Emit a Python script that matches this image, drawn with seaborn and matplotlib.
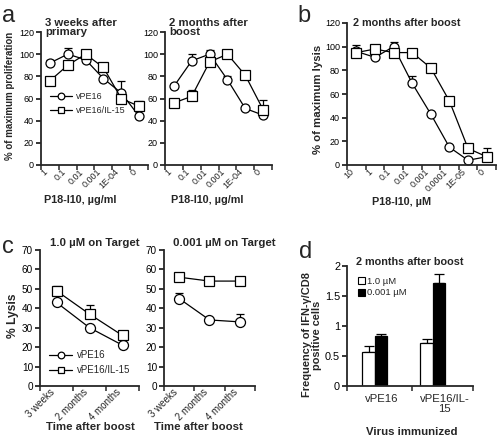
import matplotlib
matplotlib.use("Agg")
import matplotlib.pyplot as plt
import matplotlib.transforms as mtransforms
import seaborn as sns
import pandas as pd
import numpy as np
from matplotlib.lines import Line2D
from matplotlib.patches import Patch

# ---------------- data ----------------
a_conc = ['1', '0.1', '0.01', '0.001', '1E-04', '0']
a1_vpe16 = [92, 100, 95, 78, 65, 44]
a1_vpe16_err = [3, 6, 0, 0, 11, 0]
a1_il15 = [76, 90, 100, 88, 60, 53]
a1_il15_err = [0, 0, 0, 0, 0, 5]
a2_vpe16 = [71, 94, 100, 77, 51, 45]
a2_vpe16_err = [2, 6, 4, 3, 0, 0]
a2_il15 = [56, 62, 93, 100, 81, 50]
a2_il15_err = [0, 6, 0, 0, 0, 9]

b_conc = ['10', '1', '0.1', '0.01', '0.001', '0.0001', '1E-05', '0']
b_vpe16 = [96, 91, 100, 69, 43, 15, 4, 7]
b_vpe16_err = [0, 0, 4, 6, 0, 0, 0, 0]
b_il15 = [95, 98, 95, 95, 82, 54, 14, 7]
b_il15_err = [6, 0, 0, 2, 0, 0, 0, 7]

c_time = ['3 weeks', '2 months', '4 months']
c1_vpe16 = [43, 30, 21]
c1_vpe16_err = [0, 0, 0]
c1_il15 = [49, 37, 26]
c1_il15_err = [2.5, 4.5, 0]
c2_vpe16 = [45, 34, 33]
c2_vpe16_err = [3, 0, 4]
c2_il15 = [56, 54, 54]
c2_il15_err = [2, 0, 0]

d_virus = ['vPE16', 'vPE16/IL-15']
d_virus_labels = ['vPE16', 'vPE16/IL-\n15']
d_conc = ['1.0 µM', '0.001 µM']
d_1uM = [0.56, 0.72]
d_1uM_err = [0.11, 0.07]
d_0001 = [0.83, 1.71]
d_0001_err = [0.03, 0.16]

series_names = ['vPE16', 'vPE16/IL-15']

# ---------------- style ----------------
sns.set_style("ticks")
plt.rcParams['font.family'] = ['Liberation Sans', 'DejaVu Sans']
plt.rcParams['axes.linewidth'] = 1.3
plt.rcParams['xtick.major.width'] = 1.1
plt.rcParams['ytick.major.width'] = 1.1
plt.rcParams['xtick.minor.width'] = 1.1

W, H = 499, 442
fig = plt.figure(figsize=(W / 100, H / 100), dpi=100)


def rect(x0, y0, x1, y1):
    return [x0 / W, 1 - y1 / H, (x1 - x0) / W, (y1 - y0) / H]


def style_axis(ax):
    sns.despine(ax=ax)
    ax.tick_params(axis='y', direction='out', length=3.5, pad=1.5, colors='black')


def line_panel(ax, cats, v1, e1, v2, e2, tick_fs=6.5, ms=6.5, pad=4):
    n = len(cats)
    pos = np.arange(n)
    df = pd.DataFrame({
        'pos': np.concatenate([pos, pos]),
        'val': v1 + v2,
        'virus': [series_names[0]] * n + [series_names[1]] * n,
    })
    for vals, err in ((v1, e1), (v2, e2)):
        ax.errorbar(pos, vals, yerr=[np.zeros(n), err], fmt='none', ecolor='black',
                    elinewidth=0.9, capsize=2.6, capthick=0.9, zorder=1.5)
    sns.lineplot(data=df, x='pos', y='val', hue='virus', style='virus',
                 markers={'vPE16': 'o', 'vPE16/IL-15': 's'}, dashes=False,
                 palette=['black', 'black'], markersize=ms, linewidth=0.9,
                 markerfacecolor='white', markeredgecolor='black', markeredgewidth=0.9,
                 legend=False, ax=ax)
    ax.set_xlim(-0.5, n - 0.5)
    ax.set_xticks(pos)
    ax.set_xticklabels(cats, rotation=45, ha='right', va='center', rotation_mode='anchor',
                       fontsize=tick_fs)
    ax.tick_params(axis='x', which='major', length=0, pad=pad)
    shift = mtransforms.ScaledTranslation(-2.5 / 72, 0, fig.dpi_scale_trans)
    for lab in ax.get_xticklabels():
        lab.set_transform(lab.get_transform() + shift)
    ax.set_xticks(np.arange(-0.5, n, 1.0), minor=True)
    ax.tick_params(axis='x', which='minor', direction='out', length=3.5)
    ax.set_xlabel('')
    ax.set_ylabel('')
    style_axis(ax)


def series_legend(ax, x, y, fs=6.5):
    h = [Line2D([], [], color='black', lw=0.9, marker='o', ms=4.8, mfc='white', mec='black', mew=0.9),
         Line2D([], [], color='black', lw=0.9, marker='s', ms=5.0, mfc='white', mec='black', mew=0.9)]
    ax.legend(h, series_names, loc='upper left', bbox_to_anchor=(x / W, 1 - y / H),
              bbox_transform=fig.transFigure, frameon=False, fontsize=fs,
              handlelength=2.4, handletextpad=0.5, labelspacing=0.55, borderpad=0,
              borderaxespad=0)


bold = dict(fontweight='bold')

# ---------------- panel a ----------------
ax_a1 = fig.add_axes(rect(41, 32, 148, 165))
line_panel(ax_a1, a_conc, a1_vpe16, a1_vpe16_err, a1_il15, a1_il15_err)
ax_a1.set_ylim(0, 120)
ax_a1.set_yticks(range(0, 121, 20))
ax_a1.tick_params(axis='y', labelsize=6.5)
series_legend(ax_a1, 50, 92)

ax_a2 = fig.add_axes(rect(165, 32, 272, 165))
line_panel(ax_a2, a_conc, a2_vpe16, a2_vpe16_err, a2_il15, a2_il15_err)
ax_a2.set_ylim(0, 120)
ax_a2.set_yticks(range(0, 121, 20))
ax_a2.tick_params(axis='y', labelsize=6.5)

fig.text(45 / W, 1 - 18 / H, '3 weeks after\nprimary', ha='left', va='top', fontsize=8.2,
         linespacing=0.85, **bold)
fig.text(169 / W, 1 - 18 / H, '2 months after\nboost', ha='left', va='top', fontsize=8.2,
         linespacing=0.85, **bold)
fig.text(80 / W, 1 - 200 / H, 'P18-I10, µg/ml', ha='center', va='center', fontsize=7.8, **bold)
fig.text(207 / W, 1 - 200 / H, 'P18-I10, µg/ml', ha='center', va='center', fontsize=7.8, **bold)
fig.text(10 / W, 1 - 96 / H, '% of maximum proliferation', ha='center', va='center',
         rotation=90, fontsize=7.0, **bold)
fig.text(2 / W, 1 - 22 / H, 'a', ha='left', va='baseline', fontsize=17)

# ---------------- panel b ----------------
ax_b = fig.add_axes(rect(347, 23, 496, 165))
line_panel(ax_b, b_conc, b_vpe16, b_vpe16_err, b_il15, b_il15_err)
ax_b.set_ylim(0, 120)
ax_b.set_yticks(range(0, 121, 20))
ax_b.tick_params(axis='y', labelsize=6.5)
fig.text(353 / W, 1 - 23 / H, '2 months after boost', ha='left', va='center', fontsize=7.8, **bold)
fig.text(402 / W, 1 - 202 / H, 'P18-I10, µM', ha='center', va='center', fontsize=7.8, **bold)
fig.text(318 / W, 1 - 99 / H, '% of maximum lysis', ha='center', va='center',
         rotation=90, fontsize=8.2, **bold)
fig.text(297 / W, 1 - 22 / H, 'b', ha='left', va='baseline', fontsize=17)

# ---------------- panel c ----------------
ax_c1 = fig.add_axes(rect(40, 250, 139, 386))
line_panel(ax_c1, c_time, c1_vpe16, c1_vpe16_err, c1_il15, c1_il15_err, tick_fs=7.0, ms=7.2, pad=3)
ax_c1.set_ylim(0, 70)
ax_c1.set_yticks(range(0, 71, 10))
ax_c1.tick_params(axis='y', labelsize=7.2)
series_legend(ax_c1, 49, 350, fs=7.0)

ax_c2 = fig.add_axes(rect(164, 250, 255, 386))
line_panel(ax_c2, c_time, c2_vpe16, c2_vpe16_err, c2_il15, c2_il15_err, tick_fs=7.0, ms=7.2, pad=3)
ax_c2.set_ylim(0, 70)
ax_c2.set_yticks(range(0, 71, 10))
ax_c2.tick_params(axis='y', labelsize=7.2)

fig.text(50 / W, 1 - 243 / H, '1.0 µM on Target', ha='left', va='center', fontsize=8.2, **bold)
fig.text(173 / W, 1 - 243 / H, '0.001 µM on Target', ha='left', va='center', fontsize=8.2, **bold)
fig.text(90 / W, 1 - 427 / H, 'Time after boost', ha='center', va='center', fontsize=8.2, **bold)
fig.text(198 / W, 1 - 427 / H, 'Time after boost', ha='center', va='center', fontsize=8.2, **bold)
fig.text(13 / W, 1 - 316 / H, '% Lysis', ha='center', va='center', rotation=90, fontsize=8.7, **bold)
fig.text(2 / W, 1 - 253 / H, 'c', ha='left', va='baseline', fontsize=17)

# ---------------- panel d ----------------
ax_d = fig.add_axes(rect(347, 266, 473, 386))
dfd = pd.DataFrame({
    'virus': d_virus * 2,
    'freq': d_1uM + d_0001,
    'conc': [d_conc[0]] * 2 + [d_conc[1]] * 2,
})
sns.barplot(data=dfd, x='virus', y='freq', hue='conc', order=d_virus, hue_order=d_conc,
            palette=['white', 'black'], edgecolor='black', linewidth=0.9, width=0.43,
            saturation=1, errorbar=None, legend=False, ax=ax_d)
for cont, err in zip(ax_d.containers, (d_1uM_err, d_0001_err)):
    xs = [p.get_x() + p.get_width() / 2 for p in cont.patches]
    ys = [p.get_height() for p in cont.patches]
    ax_d.errorbar(xs, ys, yerr=[np.zeros(len(xs)), err], fmt='none', ecolor='black',
                  elinewidth=0.9, capsize=3.5, capthick=0.9, zorder=0.5)
ax_d.set_xlim(-0.48, 1.69)
ax_d.set_ylim(0, 2)
ax_d.set_yticks([0, 0.5, 1, 1.5, 2])
ax_d.set_yticklabels(['0', '0.5', '1', '1.5', '2'])
ax_d.tick_params(axis='y', labelsize=7.8)
ax_d.set_xticks([0.12, 1.2])
ax_d.set_xticklabels(d_virus_labels, fontsize=8.2, linespacing=1.0)
ax_d.tick_params(axis='x', which='major', length=0, pad=6)
ax_d.set_xticks([-0.48, 0.64, 1.69], minor=True)
ax_d.tick_params(axis='x', which='minor', direction='out', length=3.5)
ax_d.set_xlabel('')
ax_d.set_ylabel('')
style_axis(ax_d)
hd = [Patch(facecolor='white', edgecolor='black', linewidth=0.8),
      Patch(facecolor='black', edgecolor='black', linewidth=0.8)]
ax_d.legend(hd, d_conc, loc='upper left', bbox_to_anchor=(358 / W, 1 - 277 / H),
            bbox_transform=fig.transFigure, frameon=False, fontsize=6.8,
            handlelength=0.75, handleheight=0.75, handletextpad=0.2, labelspacing=0.25,
            borderpad=0, borderaxespad=0)
fig.text(410 / W, 1 - 262 / H, '2 months after boost', ha='center', va='center', fontsize=7.8, **bold)
fig.text(412 / W, 1 - 432 / H, 'Virus immunized', ha='center', va='center', fontsize=8.2, **bold)
fig.text(312 / W, 1 - 335 / H, 'Frequency of IFN-γ/CD8\npositive cells', ha='center', va='center',
         rotation=90, fontsize=7.9, linespacing=1.0, **bold)
fig.text(299 / W, 1 - 258 / H, 'd', ha='left', va='baseline', fontsize=17)

fig.savefig('out.png', dpi=100)
